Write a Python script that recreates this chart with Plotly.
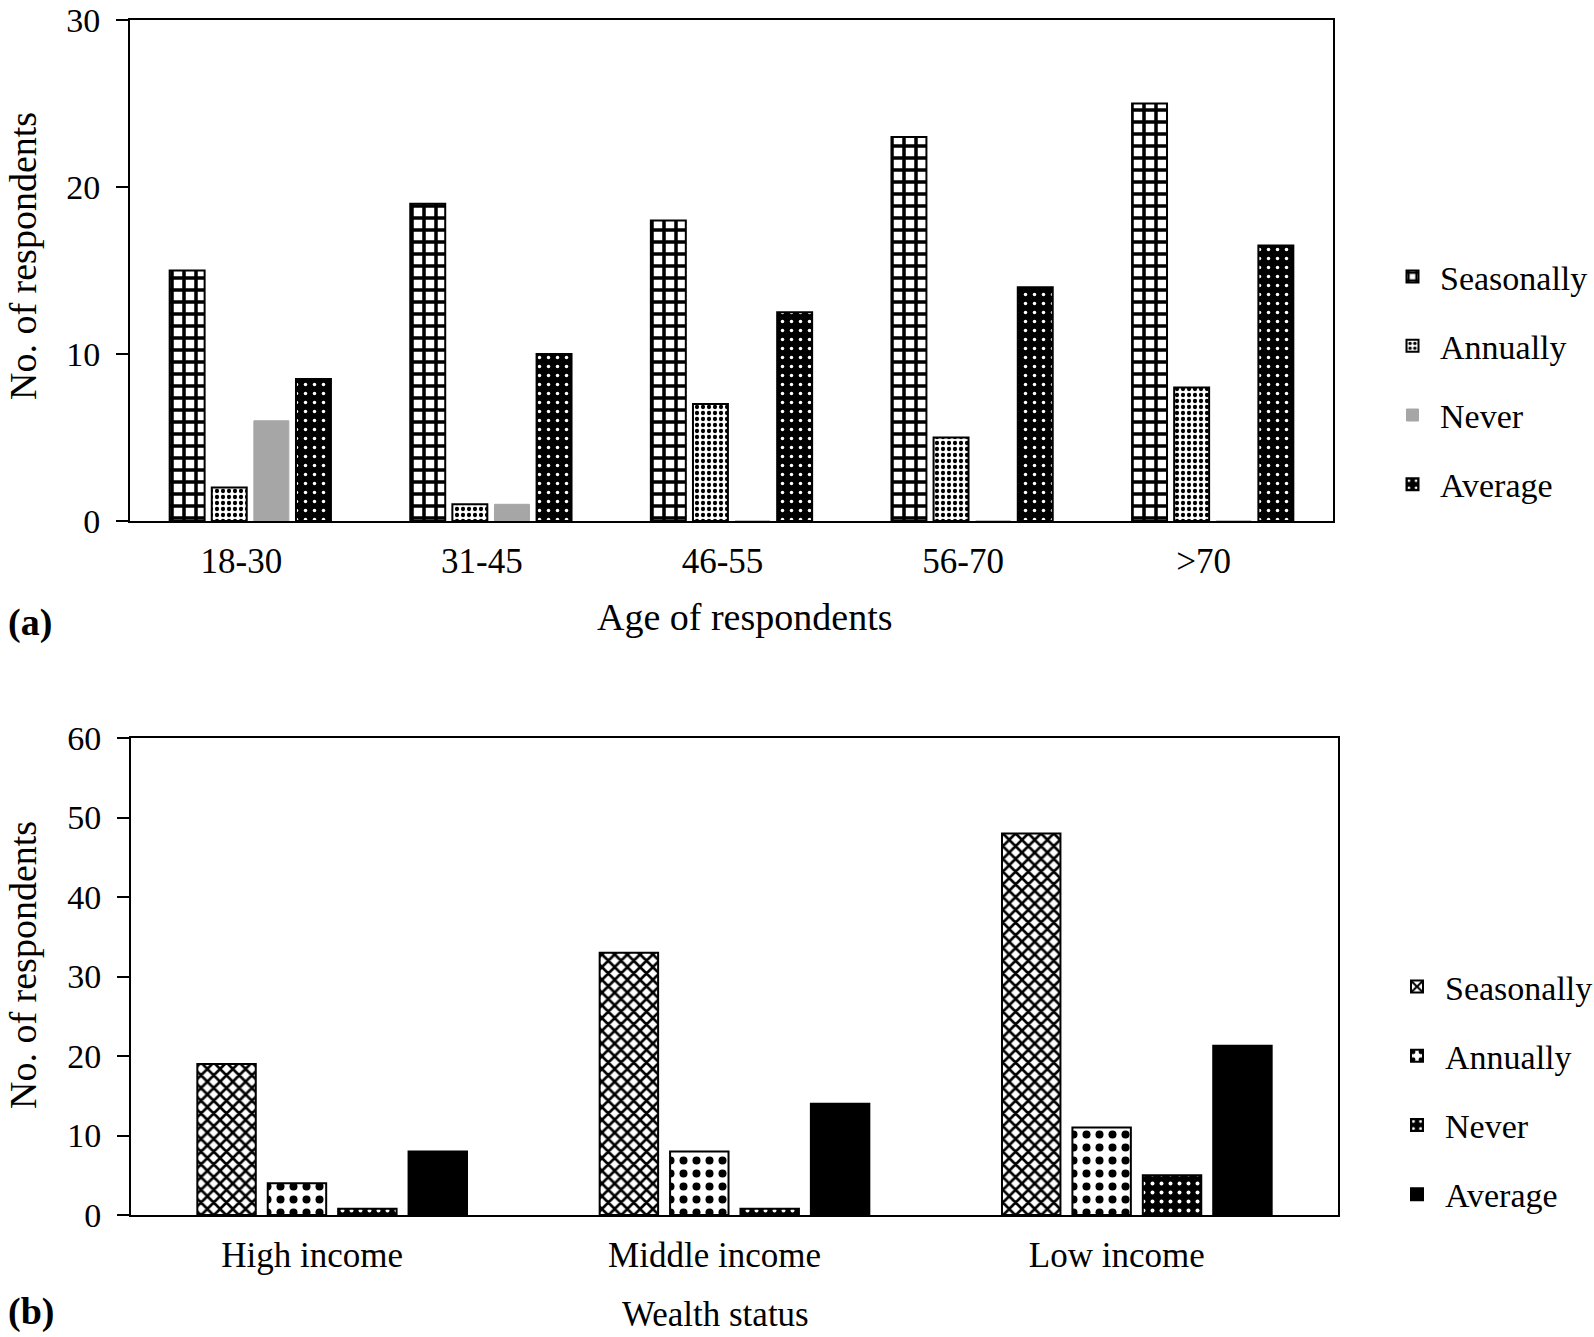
import plotly.graph_objects as go

# ---- data ----
age_groups = ["18-30", "31-45", "46-55", "56-70", ">70"]
age_seasonally = [15, 19, 18, 23, 25]
age_annually = [2, 1, 7, 5, 8]
age_never = [6, 1, 0, 0, 0]
age_average = [8.5, 10, 12.5, 14, 16.5]

wealth_groups = ["High income", "Middle income", "Low income"]
wealth_seasonally = [19, 33, 48]
wealth_annually = [4, 8, 11]
wealth_never = [0.8, 0.8, 5]
wealth_average = [8, 14, 21.3]

W, H = 1594, 1337
FONT = "Liberation Serif, Times New Roman, serif"

fig = go.Figure()
line = dict(color="black", width=2)

# ---- top panel ----
fig.add_trace(go.Bar(x=age_groups, y=age_seasonally, name="Seasonally", xaxis="x", yaxis="y",
                     legend="legend", legendgroup="a1",
                     marker=dict(color="white", line=line,
                                 pattern=dict(shape="+", fgcolor="black", bgcolor="white",
                                              fgopacity=1, size=12, solidity=0.5))))
fig.add_trace(go.Bar(x=age_groups, y=age_annually, name="Annually", xaxis="x", yaxis="y",
                     legend="legend", legendgroup="a2",
                     marker=dict(color="white", line=line,
                                 pattern=dict(shape=".", fgcolor="black", bgcolor="white",
                                              fgopacity=1, size=6, solidity=0.4))))
fig.add_trace(go.Bar(x=age_groups, y=age_never, name="Never", xaxis="x", yaxis="y",
                     legend="legend", legendgroup="a3",
                     marker=dict(color="#a6a6a6", line=dict(color="#a6a6a6", width=1))))
fig.add_trace(go.Bar(x=age_groups, y=age_average, name="Average", xaxis="x", yaxis="y",
                     legend="legend", legendgroup="a4",
                     marker=dict(color="black", line=line,
                                 pattern=dict(shape=".", fgcolor="white", bgcolor="black",
                                              fgopacity=1, size=9, solidity=0.12))))

# ---- bottom panel ----
fig.add_trace(go.Bar(x=wealth_groups, y=wealth_seasonally, name="Seasonally", xaxis="x2", yaxis="y2",
                     legend="legend2", legendgroup="b1",
                     marker=dict(color="white", line=line,
                                 pattern=dict(shape="x", fgcolor="black", bgcolor="white",
                                              fgopacity=1, size=9, solidity=0.5))))
fig.add_trace(go.Bar(x=wealth_groups, y=wealth_annually, name="Annually", xaxis="x2", yaxis="y2",
                     legend="legend2", legendgroup="b2",
                     marker=dict(color="white", line=line,
                                 pattern=dict(shape=".", fgcolor="black", bgcolor="white",
                                              fgopacity=1, size=13, solidity=0.3))))
fig.add_trace(go.Bar(x=wealth_groups, y=wealth_never, name="Never", xaxis="x2", yaxis="y2",
                     legend="legend2", legendgroup="b3",
                     marker=dict(color="black", line=line,
                                 pattern=dict(shape=".", fgcolor="white", bgcolor="black",
                                              fgopacity=1, size=9, solidity=0.15))))
fig.add_trace(go.Bar(x=wealth_groups, y=wealth_average, name="Average", xaxis="x2", yaxis="y2",
                     legend="legend2", legendgroup="b4",
                     marker=dict(color="black", line=line)))

def px_x(v):
    return v / W

def px_y(v):
    return 1 - v / H

axis_common = dict(showline=True, linecolor="black", linewidth=2, mirror=True,
                   showgrid=False, zeroline=False, automargin=False)
xtick_font = dict(family=FONT, size=35, color="black")
ytick_font = dict(family=FONT, size=34, color="black")

fig.update_layout(
    width=W, height=H,
    margin=dict(l=0, r=0, t=0, b=0, autoexpand=False),
    paper_bgcolor="white", plot_bgcolor="white",
    barmode="group",
    bargap=0.30, bargroupgap=0.17,
    font=dict(family=FONT, color="black"),
    xaxis=dict(domain=[px_x(130), px_x(1333)], anchor="y", ticks="",
               ticklabelstandoff=8, ticklabelshift=-9, tickfont=xtick_font, **axis_common),
    yaxis=dict(domain=[px_y(521), px_y(20)], anchor="x", range=[0, 30], dtick=10,
               ticks="outside", ticklen=12, tickwidth=2, tickcolor="black",
               ticklabelstandoff=9, tickfont=ytick_font, **axis_common),
    xaxis2=dict(domain=[px_x(131), px_x(1338)], anchor="y2", ticks="",
                ticklabelstandoff=8, ticklabelshift=-20, tickfont=xtick_font, **axis_common),
    yaxis2=dict(domain=[px_y(1215), px_y(738)], anchor="x2", range=[0, 60], dtick=10,
                ticks="outside", ticklen=12, tickwidth=2, tickcolor="black",
                ticklabelstandoff=9, tickfont=ytick_font, **axis_common),
    legend=dict(x=px_x(1385), y=px_y(248), xanchor="left", yanchor="top",
                font=dict(family=FONT, size=34, color="black"),
                tracegroupgap=22, itemwidth=45, bgcolor="rgba(0,0,0,0)"),
    legend2=dict(x=px_x(1389), y=px_y(958), xanchor="left", yanchor="top",
                 font=dict(family=FONT, size=34, color="black"),
                 tracegroupgap=22, itemwidth=46, bgcolor="rgba(0,0,0,0)"),
    annotations=[
        dict(text="No. of respondents", x=px_x(23), y=px_y(256), xref="paper", yref="paper",
             textangle=-90, showarrow=False, xanchor="center", yanchor="middle",
             font=dict(family=FONT, size=38, color="black")),
        dict(text="Age of respondents", x=px_x(744), y=px_y(617), xref="paper", yref="paper",
             showarrow=False, xanchor="center", yanchor="middle",
             font=dict(family=FONT, size=38, color="black")),
        dict(text="<b>(a)</b>", x=px_x(6), y=px_y(622), xref="paper", yref="paper",
             showarrow=False, xanchor="left", yanchor="middle",
             font=dict(family=FONT, size=38, color="black")),
        dict(text="No. of respondents", x=px_x(23), y=px_y(965), xref="paper", yref="paper",
             textangle=-90, showarrow=False, xanchor="center", yanchor="middle",
             font=dict(family=FONT, size=38, color="black")),
        dict(text="Wealth status", x=px_x(715), y=px_y(1314), xref="paper", yref="paper",
             showarrow=False, xanchor="center", yanchor="middle",
             font=dict(family=FONT, size=35, color="black")),
        dict(text="<b>(b)</b>", x=px_x(6), y=px_y(1311), xref="paper", yref="paper",
             showarrow=False, xanchor="left", yanchor="middle",
             font=dict(family=FONT, size=38, color="black")),
    ],
)

fig.write_html("out.html", config={"displayModeBar": False},
               post_script="document.body.style.margin='0';")
